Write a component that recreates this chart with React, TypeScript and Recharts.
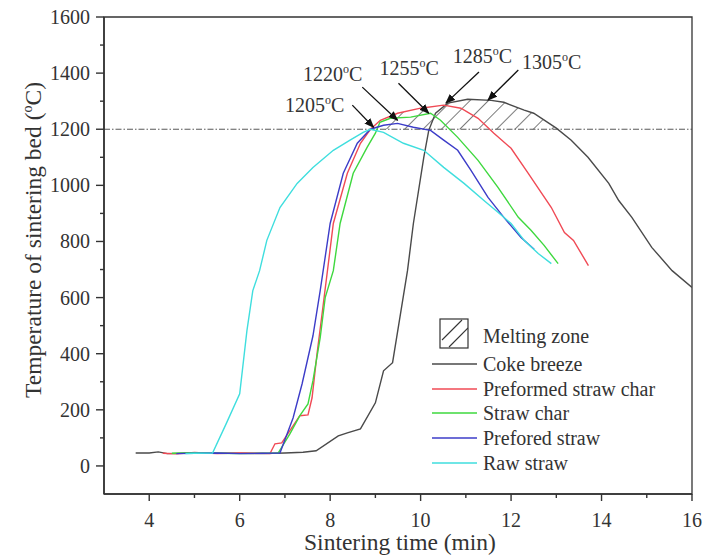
import React from 'react';
import {
  ComposedChart, Line, Area, XAxis, YAxis, ReferenceLine, ReferenceArea, ReferenceDot,
} from 'recharts';

// [time (min), temperature (°C)]
const cokeBreeze = [
  [3.7, 46], [4.0, 46], [4.2, 50], [4.4, 44], [5.0, 46], [5.5, 45], [6.0, 45], [6.5, 44], [7.0, 46],
  [7.4, 49], [7.69, 54], [8.18, 107], [8.38, 118], [8.67, 132], [9.0, 225], [9.18, 339], [9.38, 368],
  [9.71, 696], [9.84, 864], [10.07, 1100], [10.18, 1196], [10.33, 1257], [10.6, 1293], [11.04, 1307],
  [11.56, 1303], [11.84, 1296], [12.29, 1268], [12.5, 1257], [13.0, 1204], [13.33, 1161], [13.7, 1100],
  [14.16, 1007], [14.38, 946], [14.67, 886], [15.11, 779], [15.56, 696], [16.0, 636],
];
const preformedStrawChar = [
  [4.3, 45], [4.6, 43], [5.0, 48], [5.5, 44], [6.0, 46], [6.5, 45], [6.67, 44], [6.78, 79], [6.93, 82],
  [7.33, 179], [7.51, 182], [7.6, 243], [7.71, 400], [7.85, 579], [8.07, 864], [8.38, 1043], [8.67, 1150],
  [8.89, 1200], [9.11, 1232], [9.49, 1257], [10.0, 1275], [10.51, 1286], [10.89, 1275], [11.27, 1239],
  [11.62, 1186], [12.0, 1132], [12.38, 1043], [12.89, 921], [13.18, 832], [13.38, 804], [13.71, 714],
];
const strawChar = [
  [4.5, 45], [5.0, 47], [5.5, 45], [6.0, 44], [6.5, 45], [6.85, 46], [7.11, 114], [7.33, 179], [7.51, 221],
  [7.62, 304], [7.78, 457], [7.89, 600], [8.07, 696], [8.22, 864], [8.51, 1043], [8.82, 1136], [9.0, 1186],
  [9.1, 1225], [9.33, 1239], [9.78, 1243], [10.22, 1257], [10.44, 1232], [10.82, 1171], [11.27, 1089],
  [11.71, 993], [12.16, 886], [12.44, 840], [12.73, 786], [13.04, 721],
];
const preforedStraw = [
  [4.6, 44], [5.0, 45], [5.5, 46], [6.0, 44], [6.5, 45], [6.89, 46], [7.18, 171], [7.38, 293], [7.62, 464],
  [7.78, 625], [8.0, 864], [8.29, 1043], [8.6, 1150], [8.89, 1200], [9.18, 1214], [9.49, 1221], [9.84, 1207],
  [10.22, 1196], [10.51, 1161], [10.82, 1125], [11.11, 1054], [11.49, 957], [11.84, 886], [12.22, 814],
  [12.51, 772],
];
const rawStraw = [
  [4.8, 44], [5.0, 45], [5.4, 46], [5.7, 150], [6.0, 257], [6.16, 482], [6.29, 625], [6.44, 696], [6.6, 804],
  [6.89, 921], [7.27, 1007], [7.62, 1064], [8.07, 1125], [8.44, 1161], [8.73, 1189], [8.89, 1200],
  [9.18, 1189], [9.62, 1150], [10.07, 1125], [10.51, 1064], [10.96, 1007], [11.4, 946], [11.71, 904],
  [12.0, 864], [12.29, 804], [12.6, 757], [12.89, 721],
];
// upper edge of the hatched melting zone (bottom edge is the 1200 line)
const meltingTop = [
  [8.9, 1200], [9.11, 1232], [9.49, 1257], [10.0, 1275], [10.51, 1286], [10.6, 1293], [11.04, 1307],
  [11.56, 1303], [11.84, 1296], [12.29, 1268], [12.5, 1257], [13.0, 1200],
];
const meltLine = 1200;

const annoText = ['1205', '1220', '1255', '1285', '1305'];
const annoLabelAt = [[7.0, 1261], [7.4, 1371], [9.09, 1393], [10.71, 1436], [12.24, 1414]];
const annoFrom = [[8.49, 1286], [8.71, 1350], [9.51, 1364], [11.29, 1404], [12.16, 1411]];
const annoTo = [[8.96, 1207], [9.49, 1232], [10.18, 1257], [10.56, 1293], [11.49, 1304]];

const xTicks = [4, 5, 6, 7, 8, 9, 10, 11, 12, 13, 14, 15, 16];
const yTicks = [0, 100, 200, 300, 400, 500, 600, 700, 800, 900, 1000, 1100, 1200, 1300, 1400, 1500, 1600];

const series = [
  { name: 'Coke breeze', data: cokeBreeze, color: '#4a4a4a' },
  { name: 'Preformed straw char', data: preformedStrawChar, color: '#f04a55' },
  { name: 'Straw char', data: strawChar, color: '#3ed83e' },
  { name: 'Prefored straw', data: preforedStraw, color: '#3c3cc8' },
  { name: 'Raw straw', data: rawStraw, color: '#3fdede' },
];

const FONT = '"Liberation Serif", "Times New Roman", serif';
const INK = '#333';

const toPts = (arr: number[][]) => arr.map(([t, v]) => ({ t, v }));
const zone = meltingTop.map(([t, v]) => ({ t, range: [meltLine, v] }));

const YTick = ({ x, y, payload }: any) => {
  const major = payload.value % 200 === 0;
  return (
    <g>
      <line x1={x - (major ? 8 : 4)} x2={x} y1={y} y2={y} stroke={INK} strokeWidth={1.4} />
      {major && (
        <text x={x - 14} y={y} dy="0.35em" textAnchor="end" fontFamily={FONT} fontSize={20} fill={INK}>
          {payload.value}
        </text>
      )}
    </g>
  );
};

const XTick = ({ x, y, payload }: any) => {
  const major = payload.value % 2 === 0;
  return (
    <g>
      <line x1={x} x2={x} y1={y} y2={y + (major ? 7 : 4)} stroke={INK} strokeWidth={1.4} />
      {major && (
        <text x={x} y={y + 33} textAnchor="middle" fontFamily={FONT} fontSize={20} fill={INK}>
          {payload.value}
        </text>
      )}
    </g>
  );
};

const Degree = ({ x, y, value, size }: any) => (
  <text x={x} y={y} fontFamily={FONT} fontSize={size} fill={INK}>
    <tspan>{value}</tspan>
    <tspan dy={-size * 0.4} fontSize={size * 0.6}>o</tspan>
    <tspan dy={size * 0.4}>C</tspan>
  </text>
);

function Legend() {
  const rowY = [364, 389, 413, 438, 463];
  return (
    <svg width={704} height={556} style={{ position: 'absolute', left: 0, top: 0, pointerEvents: 'none' }}>
      <defs>
        <clipPath id="legBox"><rect x={440} y={319} width={28} height={29} /></clipPath>
      </defs>
      <rect x={440} y={319} width={28} height={29} fill="none" stroke={INK} strokeWidth={1.2} />
      <g clipPath="url(#legBox)">
        <line x1={442} y1={340} x2={462} y2={320} stroke={INK} strokeWidth={1.1} />
        <line x1={449} y1={347} x2={468} y2={328} stroke={INK} strokeWidth={1.1} />
      </g>
      <text x={483} y={336} dy="0.33em" fontFamily={FONT} fontSize={20} fill={INK}>Melting zone</text>
      {series.map((s, i) => (
        <g key={s.name}>
          <line x1={432} x2={477} y1={rowY[i]} y2={rowY[i]} stroke={s.color} strokeWidth={1.4} />
          <text x={483} y={rowY[i]} dy="0.33em" fontFamily={FONT} fontSize={20} fill={INK}>{s.name}</text>
        </g>
      ))}
    </svg>
  );
}

export default function App() {
  return (
    <div style={{ position: 'absolute', left: 0, top: 0, width: 704, height: 556, background: '#fff' }}>
      <ComposedChart width={704} height={556} margin={{ top: 17, right: 12, bottom: 22, left: 44 }}>
        <defs>
          <pattern id="hatch" width="13" height="13" patternUnits="userSpaceOnUse" patternTransform="rotate(45)">
            <line x1="0" y1="0" x2="0" y2="13" stroke="#222" strokeWidth={1.2} />
          </pattern>
          <marker id="arr" markerWidth="10" markerHeight="8" refX="9" refY="4" orient="auto" markerUnits="userSpaceOnUse">
            <path d="M0,0 L10,4 L0,8 z" fill="#111" />
          </marker>
        </defs>
        <XAxis
          type="number" dataKey="t" domain={[3, 16]} ticks={xTicks} interval={0}
          tickSize={0} tickMargin={0} height={40} tick={<XTick />}
          axisLine={{ stroke: INK, strokeWidth: 1.6 }} tickLine={false} allowDataOverflow
          label={() => (
            <text x={400} y={550} textAnchor="middle" fontFamily={FONT} fontSize={23.5} fill={INK}>
              Sintering time (min)
            </text>
          )}
        />
        <YAxis
          type="number" domain={[-100, 1600]} ticks={yTicks} interval={0}
          tickSize={0} tickMargin={0} width={60} tick={<YTick />}
          axisLine={{ stroke: INK, strokeWidth: 1.6 }} tickLine={false} allowDataOverflow
          label={() => (
            <text transform="rotate(-90, 41, 240)" x={41} y={240} textAnchor="middle" fontFamily={FONT} fontSize={23.5} fill={INK}>
              <tspan>Temperature of sintering bed (</tspan>
              <tspan dy={-9} fontSize={14}>o</tspan>
              <tspan dy={9}>C)</tspan>
            </text>
          )}
        />
        <ReferenceArea x1={3} x2={16} y1={-100} y2={1600} fill="none" stroke={INK} strokeWidth={1.3} />
        <Area
          data={zone} dataKey="range" type="linear" stroke="none" fill="url(#hatch)" fillOpacity={1}
          isAnimationActive={false} activeDot={false}
        />
        <ReferenceLine y={meltLine} stroke="#444" strokeWidth={0.9} strokeDasharray="6 2 1.5 2" />
        {series.map((s) => (
          <Line
            key={s.name} data={toPts(s.data)} dataKey="v" type="linear" stroke={s.color} strokeWidth={1.4}
            dot={false} activeDot={false} isAnimationActive={false}
          />
        ))}
        {annoText.map((txt, i) => (
          <ReferenceLine
            key={'a' + i}
            segment={[{ x: annoFrom[i][0], y: annoFrom[i][1] }, { x: annoTo[i][0], y: annoTo[i][1] }]}
            shape={(p: any) => (
              <line x1={p.x1} y1={p.y1} x2={p.x2} y2={p.y2} stroke="#111" strokeWidth={1.3} markerEnd="url(#arr)" />
            )}
          />
        ))}
        {annoText.map((txt, i) => (
          <ReferenceDot
            key={'l' + i} x={annoLabelAt[i][0]} y={annoLabelAt[i][1]} r={0}
            shape={(p: any) => <Degree x={p.cx} y={p.cy} value={txt} size={20} />}
          />
        ))}
      </ComposedChart>
      <Legend />
    </div>
  );
}
